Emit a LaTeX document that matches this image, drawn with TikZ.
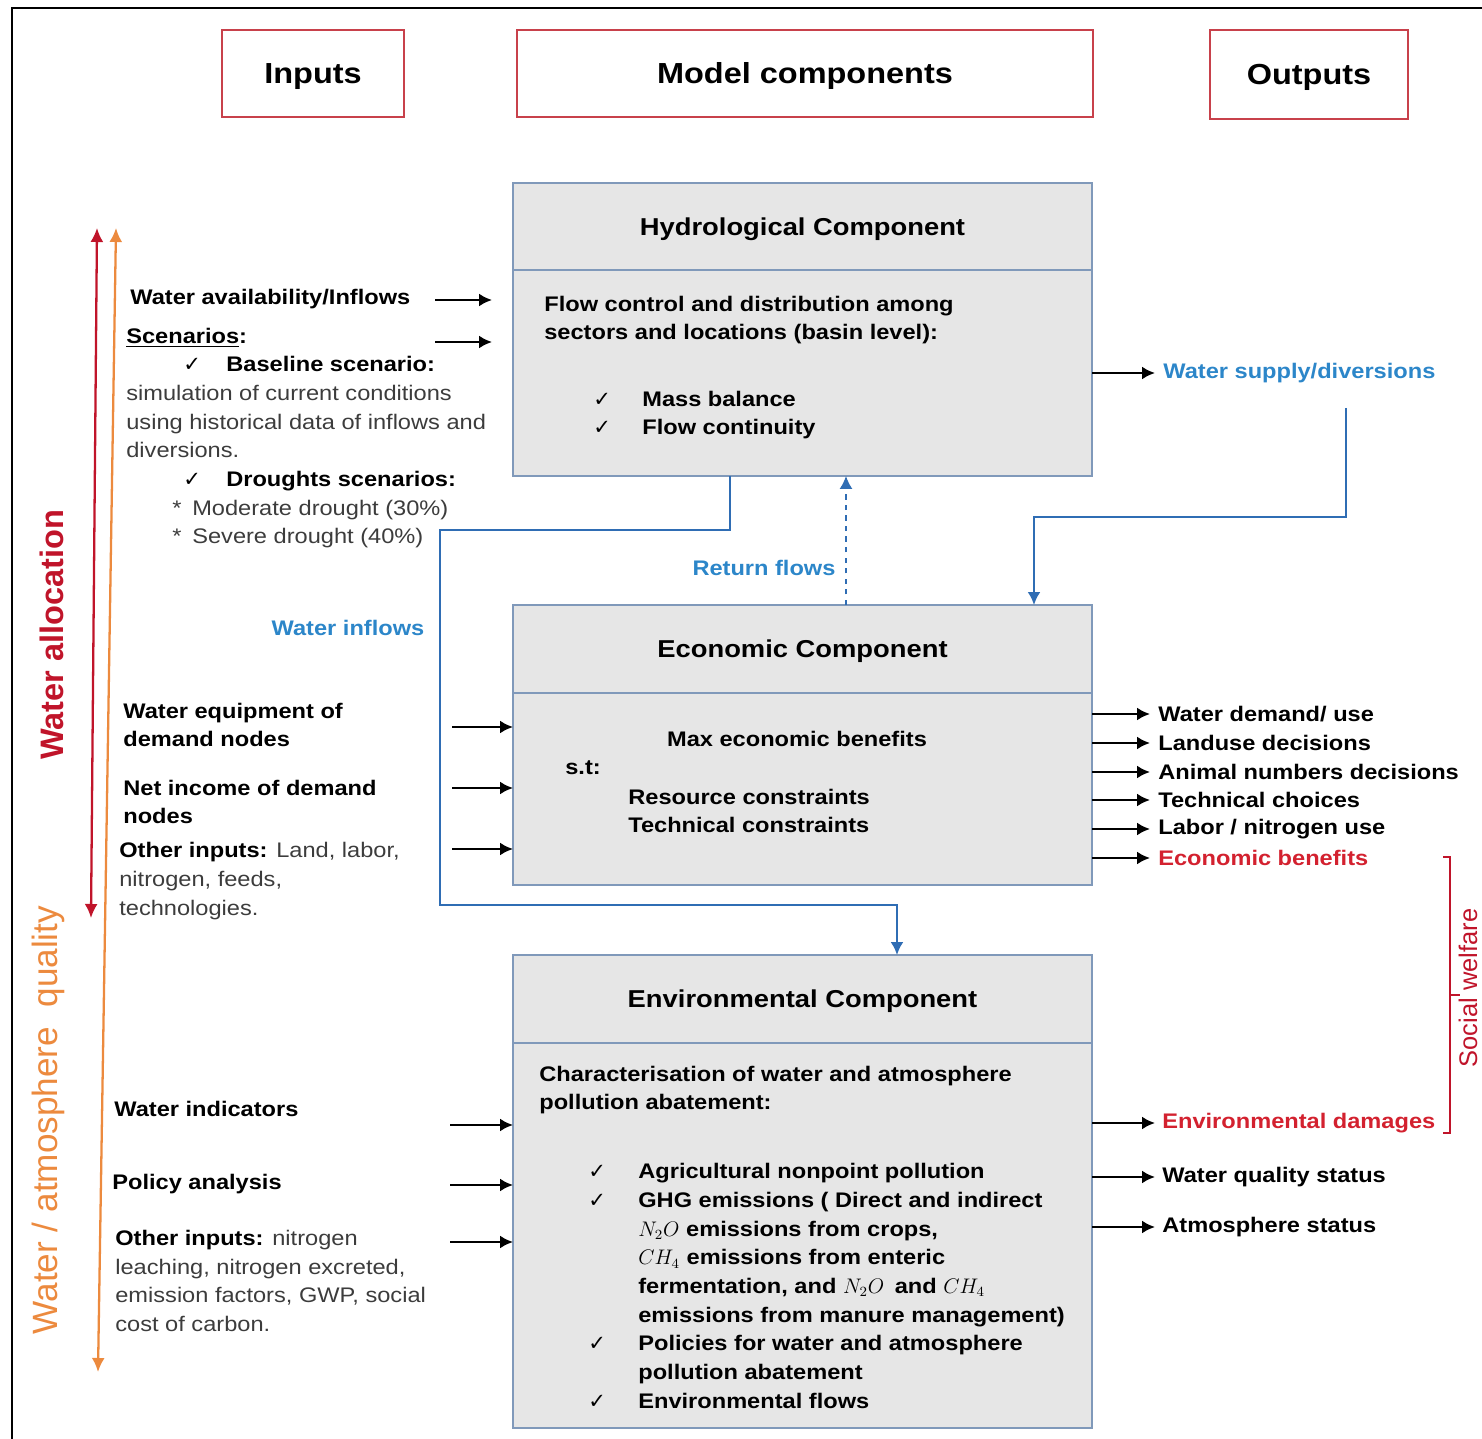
\documentclass[tikz,border=0pt]{standalone}
\usepackage{fontspec}
\setmainfont[FakeStretch=1.12]{Liberation Sans}
\newfontfamily\sidefont{Liberation Sans}
\newfontfamily\symbolfont{DejaVu Sans}
\usepackage{xcolor}
\usepackage{tikz}
\usetikzlibrary{
  arrows.meta,
  positioning,
  calc
}
\definecolor{boxFill}{HTML}{E6E6E6}
\definecolor{boxStroke}{HTML}{8099BA}
\definecolor{titleStroke}{HTML}{C8414B}
\definecolor{flowBlue}{HTML}{2F6DB4}
\definecolor{labelBlue}{HTML}{2C86C9}
\definecolor{allocRed}{HTML}{C0142A}
\definecolor{qualOrange}{HTML}{EC8A3E}
\definecolor{benefitRed}{HTML}{D3212F}
\definecolor{bodyGray}{HTML}{3C3C3C}
\newcommand{\pxu}{0.02cm}
\newcommand{\txtfont}{\fontsize{12}{16.3}\selectfont}
\newcommand{\compfont}{\fontsize{13.9}{16}\selectfont\bfseries}
\newcommand{\colfont}{\fontsize{16.5}{19}\selectfont\bfseries}
\newcommand{\chkmark}{{\symbolfont\fontsize{12}{14}\selectfont ✓}}
\newcommand{\greytext}[1]{{\mdseries\color{bodyGray}#1}}
\tikzset{
  title box/.style={
    draw=titleStroke, line width=1.2pt, fill=white,
    inner sep=0pt, text depth=0pt, font=\colfont},
  comp head/.style={
    draw=boxStroke, fill=boxFill, line width=1.3pt,
    inner sep=0pt, outer sep=0pt, text depth=0pt,
    minimum width=579*\pxu, font=\compfont},
  comp body/.style={comp head, font=\txtfont},
  txt/.style={inner sep=0pt, anchor=west, align=left,
    font=\txtfont\bfseries},
  arr/.style={-{Latex[length=2.6mm,width=2.6mm]}, line width=1.3pt},
  flow/.style={-{Latex[length=2.6mm,width=2.6mm]}, line width=1.3pt,
    draw=flowBlue},
  span arrow/.style={
    {Latex[length=2.8mm,width=2.6mm]}-{Latex[length=2.8mm,width=2.6mm]},
    line width=1.3pt},
}

\begin{document}
\begin{tikzpicture}[x=0.02cm, y=-0.02cm]
    \useasboundingbox (0,0) rectangle (1482,1439);
    \draw[line width=1.6pt] (12,1439) -- (12,8) -- (1482,8);

    % Column titles
    \node[title box, minimum width=182*\pxu, minimum height=87*\pxu] (inputs) at (313,73.5) {Inputs};
    \node[title box, minimum width=576*\pxu, minimum height=87*\pxu] (model) at (805,73.5) {Model components};
    \node[title box, minimum width=198*\pxu, minimum height=89*\pxu] (outputs) at (1309,74.5) {Outputs};

    % Components
    \node[comp head, minimum height=87*\pxu, anchor=north] (hydroHead) at (802.5,183) {Hydrological Component};
    \node[comp body, minimum height=206*\pxu, below=0pt of hydroHead] (hydro) {};
    \node[comp head, minimum height=88*\pxu, anchor=north] (econHead) at (802.5,605) {Economic Component};
    \node[comp body, minimum height=192*\pxu, below=0pt of econHead] (econ) {};
    \node[comp head, minimum height=88*\pxu, anchor=north] (envHead) at (802.5,955) {Environmental Component};
    \node[comp body, minimum height=385*\pxu, below=0pt of envHead] (env) {};

    % Component contents
    \node[txt] (flowCtl) at (544,320) {Flow control and distribution among\\sectors and locations (basin level):};
    \node[txt] (balance) at (593,415) {\makebox[0.98cm][l]{\chkmark}Mass balance\\\makebox[0.98cm][l]{\chkmark}Flow continuity};
    \node[txt, anchor=center] (maxBen) at (797,739) {Max economic benefits};
    \node[txt] (subjTo) at (565,768) {s.t:};
    \node[txt] (constr) at (628,811) {Resource constraints\\Technical constraints};
    \node[txt] (charact) at (539,1090) {Characterisation of water and atmosphere\\pollution abatement:};
    \node[txt] (envList) at (588,1286) {%
      \makebox[1cm][l]{\chkmark}Agricultural nonpoint pollution\\
      \makebox[1cm][l]{\chkmark}GHG emissions ( Direct and indirect\\
      \hspace*{1cm}$N_2O$ emissions from crops,\\
      \hspace*{1cm}$CH_4$ emissions from enteric\\
      \hspace*{1cm}fermentation, and $N_2O$\enspace and $CH_4$\\
      \hspace*{1cm}emissions from manure management)\\
      \makebox[1cm][l]{\chkmark}Policies for water and atmosphere\\
      \hspace*{1cm}pollution abatement\\
      \makebox[1cm][l]{\chkmark}Environmental flows};

    % Inputs
    \node[txt] (avail) at (130,299) {Water availability/Inflows};
    \node[txt] (scen) at (126,438) {%
      \underline{Scenarios}:\\
      \hspace*{1.14cm}\makebox[0.86cm][l]{\chkmark}Baseline scenario:\\
      \greytext{simulation of current conditions}\\
      \greytext{using historical data of inflows and}\\
      \greytext{diversions.}\\
      \hspace*{1.14cm}\makebox[0.86cm][l]{\chkmark}Droughts scenarios:\\
      \greytext{\hspace*{0.92cm}\makebox[0.4cm][l]{*}Moderate drought (30\%)}\\
      \greytext{\hspace*{0.92cm}\makebox[0.4cm][l]{*}Severe drought (40\%)}};
    \node[txt] (equip) at (123,725) {Water equipment of\\demand nodes};
    \node[txt] (income) at (123,802) {Net income of demand\\nodes};
    \node[txt] (econOther) at (119,881) {Other inputs: \greytext{Land, labor,}\\\greytext{nitrogen, feeds,}\\\greytext{technologies.}};
    \node[txt] (indic) at (114,1109) {Water indicators};
    \node[txt] (policy) at (112,1184) {Policy analysis};
    \node[txt] (envOther) at (115,1281) {Other inputs: \greytext{nitrogen}\\\greytext{leaching, nitrogen excreted,}\\\greytext{emission factors, GWP, social}\\\greytext{cost of carbon.}};

    \coordinate (hydroIn1) at (435,300);
    \coordinate (hydroIn2) at (435,342);
    \coordinate (econIn1) at (452,727);
    \coordinate (econIn2) at (452,788);
    \coordinate (econIn3) at (452,849);
    \coordinate (envIn1) at (450,1125);
    \coordinate (envIn2) at (450,1185);
    \coordinate (envIn3) at (450,1242);
    \draw[arr, shorten >=0.42cm] (hydroIn1) -- (hydroIn1 -| hydro.west);
    \draw[arr, shorten >=0.42cm] (hydroIn2) -- (hydroIn2 -| hydro.west);
    \draw[arr] (econIn1) -- (econIn1 -| econ.west);
    \draw[arr] (econIn2) -- (econIn2 -| econ.west);
    \draw[arr] (econIn3) -- (econIn3 -| econ.west);
    \draw[arr] (envIn1) -- (envIn1 -| env.west);
    \draw[arr] (envIn2) -- (envIn2 -| env.west);
    \draw[arr] (envIn3) -- (envIn3 -| env.west);

    % Outputs
    \node[txt, text=labelBlue] (supplyOut) at (1163,373) {Water supply/diversions};
    \node[txt] (demandOut) at (1158,714) {Water demand/ use};
    \node[txt] (landOut) at (1158,743) {Landuse decisions};
    \node[txt] (animalOut) at (1158,772) {Animal numbers decisions};
    \node[txt] (techOut) at (1158,800) {Technical choices};
    \node[txt] (laborOut) at (1158,829) {Labor / nitrogen use};
    \node[txt, text=benefitRed] (benefitOut) at (1158,858) {Economic benefits};
    \node[txt, text=benefitRed] (damageOut) at (1162,1123) {Environmental damages};
    \node[txt] (qualityOut) at (1162,1177) {Water quality status};
    \node[txt] (atmosOut) at (1162,1227) {Atmosphere status};

    \draw[arr, shorten >=0.16cm] (hydro.east |- supplyOut.west) -- (supplyOut.west);
    \draw[arr, shorten >=0.16cm] (econ.east |- demandOut.west) -- (demandOut.west);
    \draw[arr, shorten >=0.16cm] (econ.east |- landOut.west) -- (landOut.west);
    \draw[arr, shorten >=0.16cm] (econ.east |- animalOut.west) -- (animalOut.west);
    \draw[arr, shorten >=0.16cm] (econ.east |- techOut.west) -- (techOut.west);
    \draw[arr, shorten >=0.16cm] (econ.east |- laborOut.west) -- (laborOut.west);
    \draw[arr, shorten >=0.16cm] (econ.east |- benefitOut.west) -- (benefitOut.west);
    \draw[arr, shorten >=0.14cm] (env.east |- damageOut.west) -- (damageOut.west);
    \draw[arr, shorten >=0.14cm] (env.east |- qualityOut.west) -- (qualityOut.west);
    \draw[arr, shorten >=0.14cm] (env.east |- atmosOut.west) -- (atmosOut.west);

    % Water flows between components
    \coordinate (inflowTop) at (730,530);
    \coordinate (inflowLeft) at (440,905);
    \coordinate (inflowIn) at (897,905);
    \draw[flow] (inflowTop |- hydro.south) -- (inflowTop) -| (inflowLeft) -| (envHead.north -| inflowIn);
    \node[txt, anchor=center, text=labelBlue] (inflowLbl) at (348,628) {Water inflows};

    \coordinate (returnX) at (846,540);
    \draw[flow, dashed, line width=0.8pt] (econHead.north -| returnX) -- (hydro.south -| returnX);
    \node[txt, anchor=center, text=labelBlue] (returnLbl) at (764,568) {Return flows};

    \coordinate (supplyStart) at (1346,408);
    \coordinate (supplyTurn) at (1034,517);
    \draw[flow] (supplyStart) |- (supplyTurn) -- (supplyTurn |- econHead.north);

    % Side axes
    \coordinate (allocTop) at (97,228);
    \coordinate (allocBot) at (91,918);
    \coordinate (qualTop) at (116,228);
    \coordinate (qualBot) at (98,1372);
    \draw[span arrow, draw=allocRed] (allocTop) -- (allocBot);
    \draw[span arrow, draw=qualOrange] (qualTop) -- (qualBot);
    \node[rotate=90, inner sep=0pt, text=allocRed,
      font={\fontsize{18.5}{20}\sidefont\bfseries}] (allocLbl) at (52,635) {Water allocation};
    \node[rotate=90, inner sep=0pt, text=qualOrange,
      font={\fontsize{20}{22}\sidefont}] (qualLbl) at (48,1120) {Water / atmosphere\ \ quality};

    % Social welfare bracket
    \coordinate (welfareTop) at (1450,857);
    \coordinate (welfareBot) at (1450,1133);
    \draw[draw=allocRed, line width=1.3pt] ($(welfareTop)+(-7,0)$) -- (welfareTop) -- (welfareBot) -- ++(-7,0);
    \draw[draw=allocRed, line width=1.3pt] ($(welfareTop)!0.5!(welfareBot)$) -- ++(10,0);
    \node[rotate=90, inner sep=0pt, text=allocRed,
      font={\fontsize{14.5}{16}\sidefont}] (welfareLbl) at (1468,988) {Social welfare};
\end{tikzpicture}
\end{document}
